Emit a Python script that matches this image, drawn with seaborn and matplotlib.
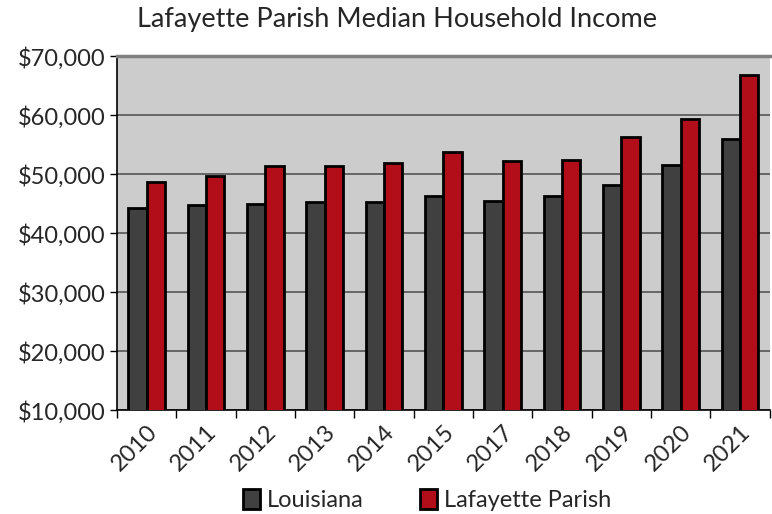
import pandas as pd
import matplotlib.pyplot as plt
import seaborn as sns
from matplotlib.ticker import FuncFormatter, FixedLocator

# Median household income values
years = ["2010", "2011", "2012", "2013", "2014", "2015", "2017", "2018", "2019", "2020", "2021"]
louisiana = [44200, 44750, 45000, 45250, 45250, 46250, 45450, 46250, 48200, 51450, 56000]
lafayette = [48650, 49700, 51400, 51400, 51900, 53650, 52200, 52400, 56200, 59400, 66700]

df = pd.DataFrame({
    "Year": years * 2,
    "Income": louisiana + lafayette,
    "Area": ["Louisiana"] * len(years) + ["Lafayette Parish"] * len(years),
})

sns.set_style("white")
plt.rcParams["font.family"] = ["Lato", "DejaVu Sans"]

fig = plt.figure(figsize=(7.72, 5.14), dpi=100)
ax = fig.add_axes([0.1516, 0.2023, 0.8454, 0.6887])
ax.set_facecolor("#cccccc")

palette = {"Louisiana": "#404040", "Lafayette Parish": "#b20e1a"}
sns.barplot(data=df, x="Year", y="Income", hue="Area", palette=palette,
            width=0.62, edgecolor="black", linewidth=2.0, saturation=1,
            ax=ax, zorder=3)

ax.set_ylim(10000, 70000)
ax.set_xlim(-0.5, len(years) - 0.5)
ax.set_yticks(range(10000, 70001, 10000))
ax.yaxis.set_major_formatter(FuncFormatter(lambda v, p: f"${v:,.0f}"))
ax.grid(axis="y", color="#555555", linewidth=1.2, zorder=0)
ax.set_axisbelow(True)

ax.set_xlabel("")
ax.set_ylabel("")
ax.tick_params(axis="y", labelsize=17, length=5, width=1, color="black", pad=3, left=True)
ax.tick_params(axis="x", which="major", labelsize=17, length=0, pad=8)
ax.xaxis.set_minor_locator(FixedLocator([i - 0.5 for i in range(len(years) + 1)]))
ax.tick_params(axis="x", which="minor", length=6, width=1, color="black", bottom=True)
plt.setp(ax.get_xticklabels(), rotation=45, ha="right", rotation_mode="anchor")

for side in ["left", "bottom"]:
    ax.spines[side].set_color("black")
    ax.spines[side].set_linewidth(1.2)
ax.spines["top"].set_color("#808080")
ax.spines["top"].set_linewidth(2.5)
ax.spines["right"].set_visible(False)

fig.text(397 / 772, 1 - 20 / 514, "Lafayette Parish Median Household Income",
         fontsize=19.5, ha="center", va="center")

leg = ax.legend(loc="center", bbox_to_anchor=(0.475, -0.255), ncol=2, frameon=False,
                fontsize=17, handlelength=0.7, handleheight=0.9, handletextpad=0.3,
                columnspacing=2.4)

fig.savefig("out.png", dpi=100)
